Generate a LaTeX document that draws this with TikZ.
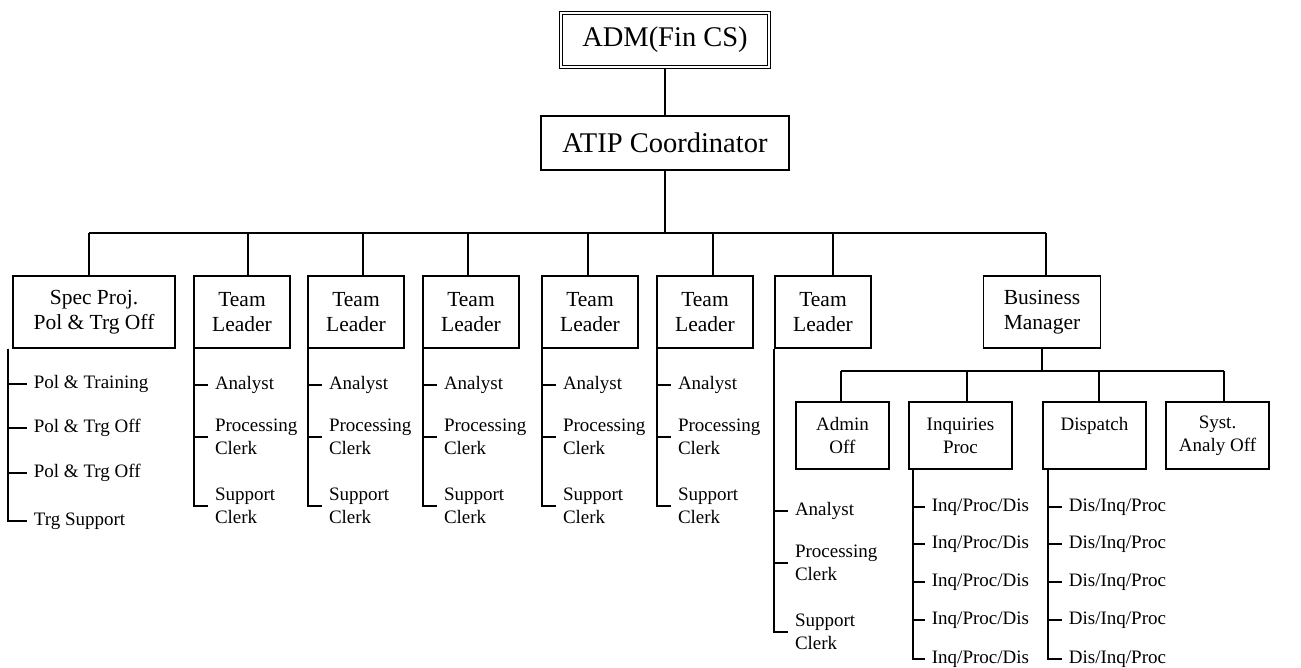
\documentclass[tikz,border=0pt]{standalone}
\usepackage{fontspec}
\setmainfont{Liberation Serif}
\usepackage{tikz}

\begin{document}
\begin{tikzpicture}[x=1pt, y=-1pt, line width=1.8pt,
	head/.style={rectangle, draw, font=\fontsize{28.5}{34}\selectfont,
				minimum height=54pt, inner sep=0pt},
	post/.style={rectangle, draw, align=center, font=\fontsize{21.5}{25}\selectfont,
				minimum height=72pt, inner sep=0pt},
	unit/.style={rectangle, draw, align=center, font=\fontsize{19}{23}\selectfont,
				minimum height=67pt, minimum width=103pt, inner sep=0pt},
	staff/.style={anchor=west, align=left, font=\fontsize{19}{23}\selectfont,
				inner xsep=6pt, inner ysep=0pt},
]
\useasboundingbox (0,0) rectangle (1301,668);
% top of the chart
\node [head, double, double distance=2pt, line width=1.3pt, minimum width=208pt]
	(adm) at (665,40) {ADM(Fin CS)};
\node [head, minimum width=248pt] (atip) at (665,143) {ATIP Coordinator};
\coordinate (bus) at (665,233);
\draw (adm) -- (atip);
\draw (atip) -- (bus);
%
% second row, drops are a little off centre
\node [post, minimum width=162pt] (spec) at (94,312) {Spec Proj.\\Pol \& Trg Off};
\foreach \i/\x in {1/242, 2/356, 3/471, 4/590, 5/705, 6/823}
	\node [post, minimum width=96pt] (tl\i) at (\x,312) {Team\\Leader};
\node [post, minimum width=117pt] (bm) at (1042,312) {Business\\Manager};
\draw ([xshift=-5pt]bus -| spec) -- ([xshift=4pt]bus -| bm);
\foreach \n/\d in {spec/-5, tl1/6, tl2/7, tl3/-3, tl4/-2, tl5/8, tl6/10, bm/4}
	\draw ([xshift=\d pt]bus -| \n) -- ([xshift=\d pt]\n.north);
%
% staff under the special projects officer
\node [staff] (sp1) at (27,384) {Pol \& Training};
\node [staff] (sp2) at (27,428) {Pol \& Trg Off};
\node [staff] (sp3) at (27,473) {Pol \& Trg Off};
\node [staff] (sp4) at (27,521) {Trg Support};
\foreach \k in {1,...,4}
	\draw ([xshift=-4pt]spec.south west) |- (sp\k.west);
%
% staff under the team leaders
\foreach \i in {1,...,5} {
	\node [staff] (an\i) at ([xshift=15pt, yshift=-36pt]tl\i.south west) {Analyst};
	\node [staff] (pc\i) at ([xshift=15pt, yshift=-88pt]tl\i.south west) {Processing\\Clerk};
	\node [staff] (sc\i) at ([xshift=15pt, yshift=-157pt]tl\i.south west) {Support\\Clerk};
	\draw ([xshift=1pt]tl\i.south west) |- (an\i.west);
	\draw ([xshift=1pt]tl\i.south west) |- (pc\i.west);
	\draw ([xshift=1pt]tl\i.south west) |- (sc\i.west);
}
\node [staff] (an6) at ([xshift=14pt, yshift=-162pt]tl6.south west) {Analyst};
\node [staff] (pc6) at ([xshift=14pt, yshift=-214pt]tl6.south west) {Processing\\Clerk};
\node [staff] (sc6) at ([xshift=14pt, yshift=-283pt]tl6.south west) {Support\\Clerk};
\foreach \k in {an6,pc6,sc6}
	\draw (tl6.south west) |- (\k.west);
%
% business manager and its units
\coordinate (bus2) at (1042,371);
\draw (bm) -- (bus2);
\node [unit, minimum width=93pt] (admin) at (842.5,435.5) {Admin\\Off};
\node [unit] (inq)  at (960.5,435.5)  {Inquiries\\Proc};
\node [unit] (disp) at (1094.5,435.5) {Dispatch\\\mbox{}};
\node [unit] (syst) at (1217.5,435.5) {Syst.\\Analy Off};
\draw ([xshift=-1.5pt]bus2 -| admin) -- ([xshift=6.5pt]bus2 -| syst);
\foreach \n/\d in {admin/-1.5, inq/6.5, disp/4.5, syst/6.5}
	\draw ([xshift=\d pt]bus2 -| \n) -- ([xshift=\d pt]\n.north);
%
\foreach \r/\y in {1/507, 2/544, 3/582, 4/620, 5/659} {
	\node [staff] (iq\r) at (925,\y) {Inq/Proc/Dis};
	\node [staff] (dq\r) at (1062,\y) {Dis/Inq/Proc};
	\draw ([xshift=5pt]inq.south west) |- (iq\r.west);
	\draw ([xshift=6pt]disp.south west) |- (dq\r.west);
}
\end{tikzpicture}
\end{document}
